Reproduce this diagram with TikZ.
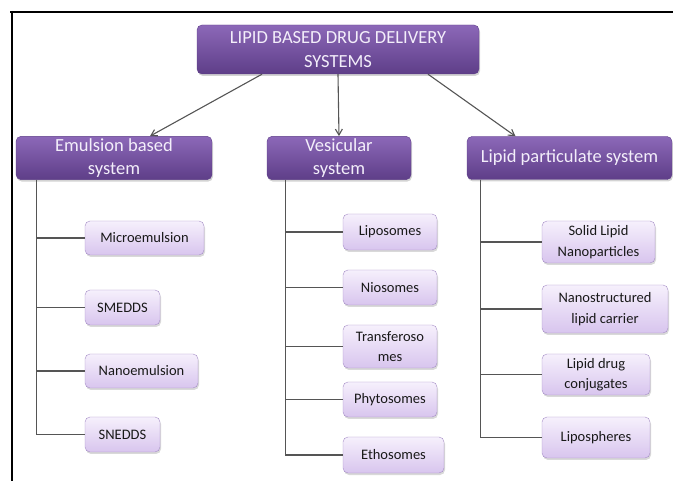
\documentclass[tikz,border=0pt]{standalone}
\usepackage{fontspec}
\setmainfont{Carlito}
\usepackage{xcolor}
\usetikzlibrary{arrows.meta,positioning,shadows}

\definecolor{headtop}{HTML}{8C68B8}
\definecolor{headbot}{HTML}{5E3E88}
\definecolor{headtxt}{HTML}{F3EEFA}
\definecolor{leaftop}{HTML}{F6F0FC}
\definecolor{leafbot}{HTML}{D8C5EE}
\definecolor{leafline}{HTML}{A58DC6}
\definecolor{wire}{HTML}{555555}

\begin{document}
\begin{tikzpicture}[x=1pt, y=-1pt,
  head/.style={draw=headbot, rounded corners=5pt, top color=headtop, bottom color=headbot,
    text=headtxt, align=center, inner sep=2pt, font=\fontsize{18.5}{23.5}\selectfont,
    drop shadow={opacity=0.35, shadow xshift=1pt, shadow yshift=-2pt}},
  leaf/.style={draw=leafline, rounded corners=5pt, top color=leaftop, bottom color=leafbot,
    text=black!90, align=center, inner sep=1pt, font=\fontsize{14.5}{20.5}\selectfont,
    drop shadow={opacity=0.3, shadow xshift=1pt, shadow yshift=-2pt}},
  link/.style={draw=wire, line width=1.1pt},
  >={Straight Barb[length=6pt,width=7pt]}]
  \useasboundingbox (0,0) rectangle (673,481);
  % frame
  \draw[line width=2.5pt] (10,12) -- (673,12);
  \draw[line width=2.5pt] (12,11) -- (12,481);
  % root and first level
  \node[head, minimum width=282pt, minimum height=49pt] (root) at (338,49.5) {LIPID BASED DRUG DELIVERY\\SYSTEMS};
  \node[head, minimum width=196pt, minimum height=43pt] (emul) at (114,158) {Emulsion based\\system};
  \node[head, minimum width=144pt, minimum height=43pt] (vesic) at (339,158) {Vesicular\\system};
  \node[head, minimum width=205pt, minimum height=43pt] (part) at (569.5,158) {Lipid particulate system};
  \draw[link, ->] ([xshift=-76pt]root.south) -- ([xshift=36pt]emul.north);
  \draw[link, ->] (root.south) -- (vesic.north);
  \draw[link, ->] ([xshift=90pt]root.south) -- ([xshift=-54pt]part.north);
  % emulsion based
  \node[leaf, minimum width=119pt, minimum height=34pt] (micro) at (144.5,238) {Microemulsion};
  \node[leaf, minimum width=75pt, minimum height=35pt] (smedds) at (122.5,307.5) {SMEDDS};
  \node[leaf, minimum width=113pt, minimum height=34pt] (nanoem) at (141.5,371) {Nanoemulsion};
  \node[leaf, minimum width=75pt, minimum height=35pt] (snedds) at (122.5,434.5) {SNEDDS};
  \foreach \n in {micro,smedds,nanoem,snedds}
    \draw[link] ([xshift=21pt]emul.south west) |- (\n.west);
  % vesicular
  \node[leaf, minimum width=94pt, minimum height=36pt] (lipo) at (390,232) {Liposomes};
  \node[leaf, minimum width=94pt, minimum height=35pt] (nio) at (390,287.5) {Niosomes};
  \node[leaf, minimum width=94pt, minimum height=43pt] (trans) at (390,346.5) {Transferoso\\mes};
  \node[leaf, minimum width=94pt, minimum height=35pt] (phyto) at (390,399.5) {Phytosomes};
  \node[leaf, minimum width=101pt, minimum height=36pt] (etho) at (393.5,455) {Ethosomes};
  \foreach \n in {lipo,nio,trans,phyto,etho}
    \draw[link] ([xshift=19pt]vesic.south west) |- (\n.west);
  % lipid particulate
  \node[leaf, minimum width=113pt, minimum height=42pt] (sln) at (598.5,242) {Solid Lipid\\Nanoparticles};
  \node[leaf, minimum width=126pt, minimum height=48pt] (nlc) at (605,309) {Nanostructured\\lipid carrier};
  \node[leaf, minimum width=108pt, minimum height=41pt] (ldc) at (596,374.5) {Lipid drug\\conjugates};
  \node[leaf, minimum width=108pt, minimum height=41pt] (lsph) at (596,437.5) {Lipospheres};
  \foreach \n in {sln,nlc,ldc,lsph}
    \draw[link] ([xshift=14pt]part.south west) |- (\n.west);
\end{tikzpicture}
\end{document}
